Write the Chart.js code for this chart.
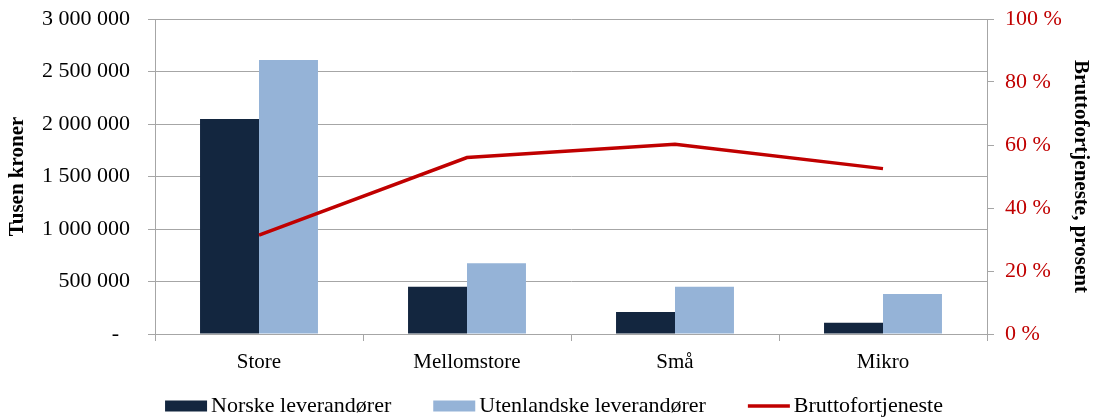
<!doctype html>
<html lang="no">
  <head>
    <meta charset="UTF-8" />
    <title>Bruttofortjeneste</title>
    <script src="https://cdn.jsdelivr.net/npm/chart.js"></script>
    <style>
      body {
        margin: 0;
        padding: 0;
        background: #ffffff;
      }
      .chart-container {
        position: relative;
        width: 1094px;
        height: 418px;
      }
    </style>
  </head>
  <body>
    <div class="chart-container">
      <canvas id="barChart"></canvas>
    </div>

    <script>
      const categories = ['Store', 'Mellomstore', 'Små', 'Mikro'];
      const norske = [2048000, 450000, 210000, 108000];
      const utenlandske = [2610000, 673000, 450000, 381000];
      const brutto = [31.4, 56.0, 60.2, 52.5];

      const FONT = '"Liberation Serif", "Times New Roman", serif';
      const GRID = '#a6a6a6';

      function spaced(v) {
        if (v === 0) return '-  ';
        return String(v).replace(/\B(?=(\d{3})+(?!\d))/g, ' ');
      }

      // legend drawn by hand so box/text gaps match the original
      const bottomLegend = {
        id: 'bottomLegend',
        afterDraw(chart) {
          const c = chart.ctx;
          const y = 406;
          c.save();
          c.font = '22px ' + FONT;
          c.textBaseline = 'middle';
          const items = chart.data.datasets.map((ds) => ({
            text: ds.label,
            line: ds.type === 'line',
            color: ds.type === 'line' ? ds.borderColor : ds.backgroundColor,
            w: c.measureText(ds.label).width,
          }));
          const boxW = 42, gap = 4, between = 42;
          const total = items.reduce((s, it) => s + boxW + gap + it.w, 0) + between * (items.length - 1);
          let x = 554 - total / 2;
          items.forEach((it) => {
            if (it.line) {
              c.strokeStyle = it.color;
              c.lineWidth = 3.5;
              c.beginPath();
              c.moveTo(x, y);
              c.lineTo(x + boxW, y);
              c.stroke();
            } else {
              c.fillStyle = it.color;
              c.fillRect(x, y - 5.5, boxW, 11);
            }
            c.fillStyle = '#000';
            c.fillText(it.text, x + boxW + gap, y);
            x += boxW + gap + it.w + between;
          });
          c.restore();
        },
      };

      function noPad(scale) {
        scale.paddingTop = 0;
        scale.paddingBottom = 0;
      }

      const ctx = document.getElementById('barChart').getContext('2d');

      const chart = new Chart(ctx, {
        type: 'bar',
        data: {
          labels: categories,
          datasets: [
            {
              label: 'Norske leverandører',
              data: norske,
              backgroundColor: '#13263f',
              yAxisID: 'y',
              order: 1,
              categoryPercentage: 0.567,
              barPercentage: 1.0,
            },
            {
              label: 'Utenlandske leverandører',
              data: utenlandske,
              backgroundColor: '#95b3d7',
              yAxisID: 'y',
              order: 1,
              categoryPercentage: 0.567,
              barPercentage: 1.0,
            },
            {
              type: 'line',
              label: 'Bruttofortjeneste',
              data: brutto,
              borderColor: '#c00000',
              backgroundColor: '#c00000',
              borderWidth: 3.5,
              pointRadius: 0,
              tension: 0,
              yAxisID: 'y1',
              order: 0,
            },
          ],
        },
        options: {
          responsive: true,
          maintainAspectRatio: false,
          animation: false,
          layout: {
            padding: { top: 19, right: 0, bottom: 44, left: 0 },
          },
          plugins: {
            tooltip: { enabled: false },
            legend: { display: false },
          },
          scales: {
            x: {
              offset: true,
              grid: {
                offset: true,
                drawOnChartArea: false,
                drawTicks: true,
                tickLength: 7,
                color: GRID,
              },
              border: { display: true, color: GRID },
              ticks: {
                color: '#000',
                padding: 9,
                font: { family: FONT, size: 21 },
              },
              afterFit(scale) {
                scale.height = 40;
                scale.paddingLeft = 0;
                scale.paddingRight = 0;
              },
            },
            y: {
              position: 'left',
              min: 0,
              max: 3000000,
              grid: { color: GRID, tickLength: 7 },
              border: { display: true, color: GRID },
              ticks: {
                stepSize: 500000,
                color: '#000',
                padding: 18,
                font: { family: FONT, size: 22 },
                callback: (v) => spaced(v),
              },
              title: {
                display: true,
                text: 'Tusen kroner',
                color: '#000',
                padding: { top: 5, bottom: 0 },
                font: { family: FONT, size: 21, weight: 'bold' },
              },
              afterFit(scale) {
                scale.width = 155;
                noPad(scale);
              },
            },
            y1: {
              position: 'right',
              min: 0,
              max: 100,
              grid: { drawOnChartArea: false, tickLength: 7, color: GRID },
              border: { display: true, color: GRID },
              ticks: {
                stepSize: 20,
                color: '#c00000',
                padding: 11,
                font: { family: FONT, size: 22 },
                callback: (v) => v + ' %',
              },
              title: {
                display: true,
                text: 'Bruttofortjeneste, prosent',
                color: '#000',
                padding: { top: 1, bottom: 0 },
                font: { family: FONT, size: 21, weight: 'bold' },
              },
              afterFit(scale) {
                scale.width = 107;
                noPad(scale);
              },
            },
          },
        },
        plugins: [bottomLegend],
      });
    </script>
  </body>
</html>
